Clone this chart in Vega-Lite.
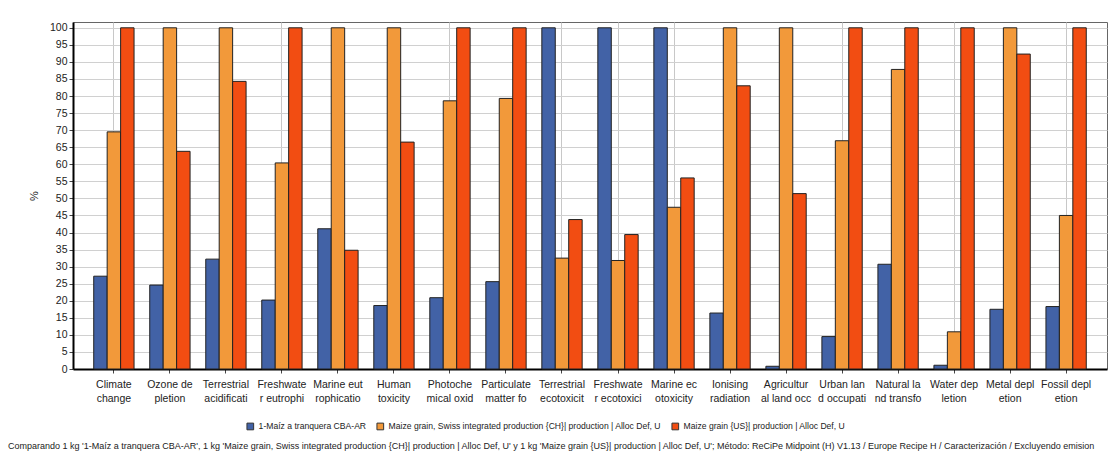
{
  "$schema": "https://vega.github.io/schema/vega-lite/v6.json",
  "width": 1034,
  "height": 347,
  "autosize": "none",
  "padding": {"left": 73, "top": 22, "right": 10, "bottom": 100},
  "background": "white",
  "config": {
    "font": "Liberation Sans, Arial, sans-serif",
    "view": {"stroke": "#666", "strokeWidth": 1}
  },
  "title": {
    "text": "Comparando 1 kg '1-Maíz a tranquera CBA-AR', 1 kg 'Maize grain, Swiss integrated production {CH}| production | Alloc Def, U' y 1 kg 'Maize grain {US}| production | Alloc Def, U';  Método: ReCiPe Midpoint (H) V1.13 / Europe Recipe H / Caracterización / Excluyendo emision",
    "orient": "bottom",
    "anchor": "start",
    "frame": "group",
    "dx": -65,
    "offset": 10,
    "fontSize": 9,
    "fontWeight": "normal",
    "color": "#222"
  },
  "data": {
    "values": [
      {"category": "Climate|change", "series": "1-Maíz a tranquera CBA-AR", "value": 27.2},
      {"category": "Climate|change", "series": "Maize grain, Swiss integrated production {CH}| production | Alloc Def, U", "value": 69.5},
      {"category": "Climate|change", "series": "Maize grain {US}| production | Alloc Def, U", "value": 100},
      {"category": "Ozone de|pletion", "series": "1-Maíz a tranquera CBA-AR", "value": 24.6},
      {"category": "Ozone de|pletion", "series": "Maize grain, Swiss integrated production {CH}| production | Alloc Def, U", "value": 100},
      {"category": "Ozone de|pletion", "series": "Maize grain {US}| production | Alloc Def, U", "value": 63.8},
      {"category": "Terrestrial|acidificati", "series": "1-Maíz a tranquera CBA-AR", "value": 32.2},
      {"category": "Terrestrial|acidificati", "series": "Maize grain, Swiss integrated production {CH}| production | Alloc Def, U", "value": 100},
      {"category": "Terrestrial|acidificati", "series": "Maize grain {US}| production | Alloc Def, U", "value": 84.3},
      {"category": "Freshwate|r eutrophi", "series": "1-Maíz a tranquera CBA-AR", "value": 20.2},
      {"category": "Freshwate|r eutrophi", "series": "Maize grain, Swiss integrated production {CH}| production | Alloc Def, U", "value": 60.4},
      {"category": "Freshwate|r eutrophi", "series": "Maize grain {US}| production | Alloc Def, U", "value": 100},
      {"category": "Marine eut|rophicatio", "series": "1-Maíz a tranquera CBA-AR", "value": 41.1},
      {"category": "Marine eut|rophicatio", "series": "Maize grain, Swiss integrated production {CH}| production | Alloc Def, U", "value": 100},
      {"category": "Marine eut|rophicatio", "series": "Maize grain {US}| production | Alloc Def, U", "value": 34.8},
      {"category": "Human|toxicity", "series": "1-Maíz a tranquera CBA-AR", "value": 18.6},
      {"category": "Human|toxicity", "series": "Maize grain, Swiss integrated production {CH}| production | Alloc Def, U", "value": 100},
      {"category": "Human|toxicity", "series": "Maize grain {US}| production | Alloc Def, U", "value": 66.5},
      {"category": "Photoche|mical oxid", "series": "1-Maíz a tranquera CBA-AR", "value": 20.9},
      {"category": "Photoche|mical oxid", "series": "Maize grain, Swiss integrated production {CH}| production | Alloc Def, U", "value": 78.6},
      {"category": "Photoche|mical oxid", "series": "Maize grain {US}| production | Alloc Def, U", "value": 100},
      {"category": "Particulate|matter fo", "series": "1-Maíz a tranquera CBA-AR", "value": 25.6},
      {"category": "Particulate|matter fo", "series": "Maize grain, Swiss integrated production {CH}| production | Alloc Def, U", "value": 79.3},
      {"category": "Particulate|matter fo", "series": "Maize grain {US}| production | Alloc Def, U", "value": 100},
      {"category": "Terrestrial|ecotoxicit", "series": "1-Maíz a tranquera CBA-AR", "value": 100},
      {"category": "Terrestrial|ecotoxicit", "series": "Maize grain, Swiss integrated production {CH}| production | Alloc Def, U", "value": 32.5},
      {"category": "Terrestrial|ecotoxicit", "series": "Maize grain {US}| production | Alloc Def, U", "value": 43.8},
      {"category": "Freshwate|r ecotoxici", "series": "1-Maíz a tranquera CBA-AR", "value": 100},
      {"category": "Freshwate|r ecotoxici", "series": "Maize grain, Swiss integrated production {CH}| production | Alloc Def, U", "value": 31.8},
      {"category": "Freshwate|r ecotoxici", "series": "Maize grain {US}| production | Alloc Def, U", "value": 39.4},
      {"category": "Marine ec|otoxicity", "series": "1-Maíz a tranquera CBA-AR", "value": 100},
      {"category": "Marine ec|otoxicity", "series": "Maize grain, Swiss integrated production {CH}| production | Alloc Def, U", "value": 47.4},
      {"category": "Marine ec|otoxicity", "series": "Maize grain {US}| production | Alloc Def, U", "value": 56.0},
      {"category": "Ionising|radiation", "series": "1-Maíz a tranquera CBA-AR", "value": 16.4},
      {"category": "Ionising|radiation", "series": "Maize grain, Swiss integrated production {CH}| production | Alloc Def, U", "value": 100},
      {"category": "Ionising|radiation", "series": "Maize grain {US}| production | Alloc Def, U", "value": 83.0},
      {"category": "Agricultur|al land occ", "series": "1-Maíz a tranquera CBA-AR", "value": 0.8},
      {"category": "Agricultur|al land occ", "series": "Maize grain, Swiss integrated production {CH}| production | Alloc Def, U", "value": 100},
      {"category": "Agricultur|al land occ", "series": "Maize grain {US}| production | Alloc Def, U", "value": 51.4},
      {"category": "Urban lan|d occupati", "series": "1-Maíz a tranquera CBA-AR", "value": 9.5},
      {"category": "Urban lan|d occupati", "series": "Maize grain, Swiss integrated production {CH}| production | Alloc Def, U", "value": 66.9},
      {"category": "Urban lan|d occupati", "series": "Maize grain {US}| production | Alloc Def, U", "value": 100},
      {"category": "Natural la|nd transfo", "series": "1-Maíz a tranquera CBA-AR", "value": 30.7},
      {"category": "Natural la|nd transfo", "series": "Maize grain, Swiss integrated production {CH}| production | Alloc Def, U", "value": 87.8},
      {"category": "Natural la|nd transfo", "series": "Maize grain {US}| production | Alloc Def, U", "value": 100},
      {"category": "Water dep|letion", "series": "1-Maíz a tranquera CBA-AR", "value": 1.1},
      {"category": "Water dep|letion", "series": "Maize grain, Swiss integrated production {CH}| production | Alloc Def, U", "value": 10.9},
      {"category": "Water dep|letion", "series": "Maize grain {US}| production | Alloc Def, U", "value": 100},
      {"category": "Metal depl|etion", "series": "1-Maíz a tranquera CBA-AR", "value": 17.5},
      {"category": "Metal depl|etion", "series": "Maize grain, Swiss integrated production {CH}| production | Alloc Def, U", "value": 100},
      {"category": "Metal depl|etion", "series": "Maize grain {US}| production | Alloc Def, U", "value": 92.3},
      {"category": "Fossil depl|etion", "series": "1-Maíz a tranquera CBA-AR", "value": 18.3},
      {"category": "Fossil depl|etion", "series": "Maize grain, Swiss integrated production {CH}| production | Alloc Def, U", "value": 45.0},
      {"category": "Fossil depl|etion", "series": "Maize grain {US}| production | Alloc Def, U", "value": 100}
    ]
  },
  "mark": {"type": "bar", "stroke": "#222", "strokeWidth": 1},
  "encoding": {
    "x": {
      "field": "category",
      "type": "nominal",
      "sort": null,
      "scale": {"paddingInner": 0.28, "paddingOuter": 0.37},
      "axis": {
        "title": null,
        "labelAngle": 0,
        "labelExpr": "split(datum.label, '|')",
        "labelFontSize": 10.5,
        "labelLineHeight": 14,
        "labelPadding": 6,
        "labelColor": "#222",
        "labelLimit": 0,
        "labelOverlap": false,
        "labelBound": false,
        "domainColor": "#000",
        "domainWidth": 2,
        "tickColor": "#444",
        "tickSize": 4,
        "bandPosition": 0.5,
        "grid": true,
        "gridColor": "#c8c8c8",
        "gridOpacity": {
          "condition": {
            "test": "indexof(['Climate|change','Freshwate|r eutrophi','Photoche|mical oxid','Terrestrial|ecotoxicit','Freshwate|r ecotoxici','Marine ec|otoxicity','Urban lan|d occupati','Water dep|letion','Fossil depl|etion'], datum.value) >= 0",
            "value": 1
          },
          "value": 0
        }
      }
    },
    "xOffset": {
      "field": "series",
      "type": "nominal",
      "sort": ["1-Maíz a tranquera CBA-AR", "Maize grain, Swiss integrated production {CH}| production | Alloc Def, U", "Maize grain {US}| production | Alloc Def, U"]
    },
    "y": {
      "field": "value",
      "type": "quantitative",
      "scale": {"domain": [0, 101.7], "nice": false},
      "axis": {
        "title": "%",
        "titleFontSize": 11,
        "titleFontWeight": "normal",
        "titleColor": "#222",
        "titlePadding": 10,
        "values": [0, 5, 10, 15, 20, 25, 30, 35, 40, 45, 50, 55, 60, 65, 70, 75, 80, 85, 90, 95, 100],
        "labelFontSize": 10.5,
        "labelColor": "#222",
        "domainColor": "#000",
        "domainWidth": 2,
        "tickColor": "#444",
        "tickSize": 4,
        "gridColor": "#d0d0d0"
      }
    },
    "color": {
      "field": "series",
      "type": "nominal",
      "scale": {
        "domain": ["1-Maíz a tranquera CBA-AR", "Maize grain, Swiss integrated production {CH}| production | Alloc Def, U", "Maize grain {US}| production | Alloc Def, U"],
        "range": ["#4262a6", "#f2993a", "#f24d12"]
      },
      "legend": {
        "title": null,
        "orient": "none",
        "legendX": 173,
        "legendY": 400,
        "direction": "horizontal",
        "symbolType": "square",
        "symbolSize": 45,
        "symbolStrokeColor": "#333",
        "symbolStrokeWidth": 1,
        "labelFontSize": 8.6,
        "labelColor": "#222",
        "labelLimit": 0,
        "columnPadding": 7,
        "labelOffset": 4
      }
    }
  }
}
